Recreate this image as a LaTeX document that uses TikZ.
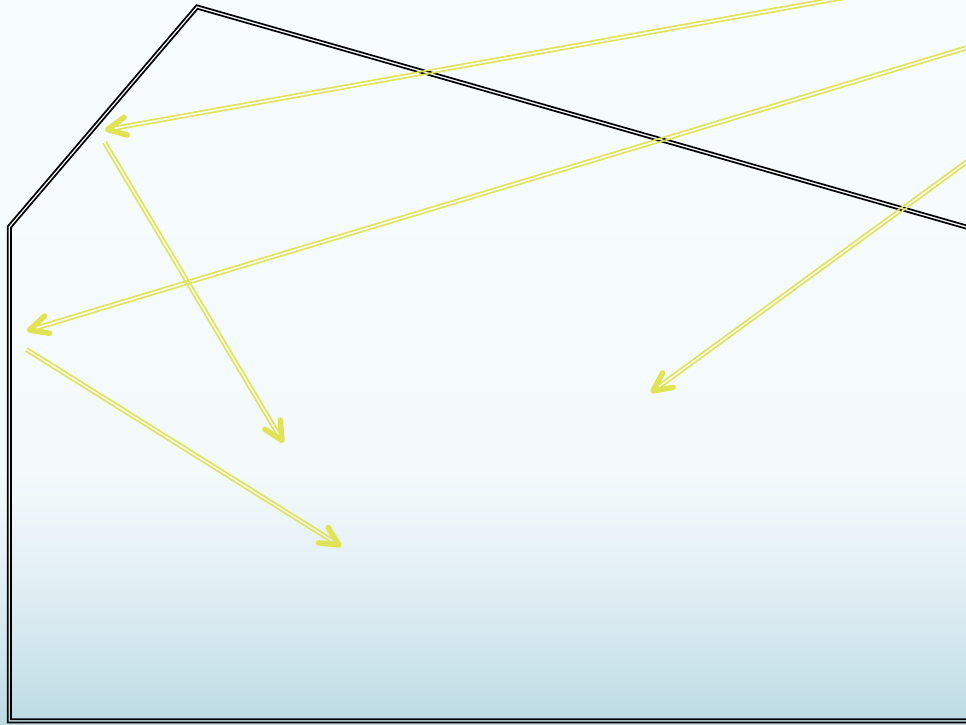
\documentclass[tikz,border=0pt]{standalone}
\usetikzlibrary{calc}
\definecolor{ctop}{RGB}{247,253,253}
\definecolor{cfifty}{RGB}{244,250,252}
\definecolor{cseventy}{RGB}{226,239,244}
\definecolor{cninety}{RGB}{208,230,237}
\definecolor{cbot}{RGB}{187,218,227}
\definecolor{arrowyellow}{RGB}{224,228,84}
\pgfdeclareverticalshading{bgshade}{100bp}{color(0bp)=(cbot); color(25bp)=(cbot); color(30bp)=(cninety); color(35bp)=(cseventy); color(42.5bp)=(cfifty); color(75bp)=(ctop); color(100bp)=(ctop)}
\newcommand\offseg[5]{\coordinate (#1a) at ($(#2)!#4!#5:(#3)$); \coordinate (#1b) at ($(#3)!#4!-#5:(#2)$);}
\tikzset{
  strand/.style={draw=black, line width=1.7pt, line join=miter},
  ystrand/.style={draw=arrowyellow, line width=1.6pt},
  ytip/.style={draw=arrowyellow, line width=5.5pt, line cap=round, line join=round},
}
\newcommand\dblarrow[2]{%
  \draw[ystrand] ($(#1)!1.7pt!90:(#2)$) -- ($(#2)!1.7pt!-90:(#1)$);
  \draw[ystrand] ($(#1)!1.7pt!-90:(#2)$) -- ($(#2)!1.7pt!90:(#1)$);
  \draw[ytip] ($(#2)!20.5pt!26:(#1)$) -- (#2) -- ($(#2)!20.5pt!-26:(#1)$);
}
\begin{document}
\begin{tikzpicture}[x=1pt,y=-1pt]
\useasboundingbox (0,0) rectangle (966,724);
\shade[shading=bgshade] (0,0) rectangle (966,724);
% polygon vertices
\coordinate (V1) at (990,720.8);
\coordinate (V2) at (9.3,720.8);
\coordinate (V3) at (9.3,227);
\coordinate (V4) at (197,7);
\coordinate (V5) at (990,233.8);
% outer / inner strands
\foreach \s/\ang in {p/90,m/-90}{
  \offseg{\s1}{V1}{V2}{1.6pt}{\ang}
  \offseg{\s2}{V2}{V3}{1.6pt}{\ang}
  \offseg{\s3}{V3}{V4}{1.6pt}{\ang}
  \offseg{\s4}{V4}{V5}{1.6pt}{\ang}
  \coordinate (\s X2) at (intersection of \s1a--\s1b and \s2a--\s2b);
  \coordinate (\s X3) at (intersection of \s2a--\s2b and \s3a--\s3b);
  \coordinate (\s X4) at (intersection of \s3a--\s3b and \s4a--\s4b);
  \draw[strand] (\s1a) -- (\s X2) -- (\s X3) -- (\s X4) -- (\s4b);
}
% arrows
\coordinate (a1s) at (886,-10);   \coordinate (a1t) at (107.5,129.5);
\coordinate (a2s) at (980,43.8);  \coordinate (a2t) at (29.5,330);
\coordinate (a3s) at (980,152.2); \coordinate (a3t) at (653,391);
\coordinate (a4s) at (104.5,142.5); \coordinate (a4t) at (282,440.5);
\coordinate (a5s) at (26.5,349.5); \coordinate (a5t) at (339,545);
\dblarrow{a1s}{a1t}
\dblarrow{a2s}{a2t}
\dblarrow{a3s}{a3t}
\dblarrow{a4s}{a4t}
\dblarrow{a5s}{a5t}
\end{tikzpicture}
\end{document}
